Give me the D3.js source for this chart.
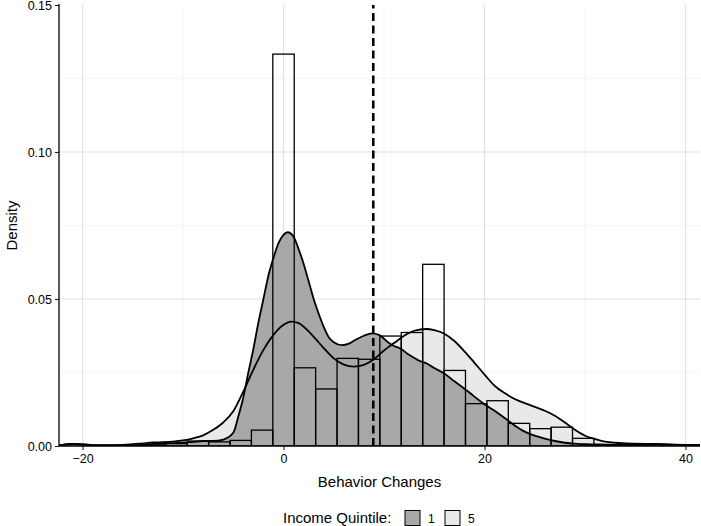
<!DOCTYPE html>
<html><head><meta charset="utf-8">
<script src="https://cdn.jsdelivr.net/npm/d3@7"></script>
<style>body{margin:0;background:#fff} svg{display:block} text{font-family:"Liberation Sans",Arial,sans-serif}</style>
</head><body><svg id="c" width="701" height="526"></svg>
<script>
// ---- data ----
const binWidth = 2.13;
const binCenters = [-12.78,-10.65,-8.52,-6.39,-4.26,-2.13,0,2.13,4.26,6.39,8.52,10.65,12.78,14.91,17.04,19.17,21.3,23.43,25.56,27.69,29.82,31.95,34.08];
const binDensity = [0.0004,0.0008,0.0017,0.0014,0.0019,0.0054,0.1333,0.0266,0.0194,0.0298,0.0295,0.0374,0.0386,0.0618,0.0257,0.0144,0.0154,0.0077,0.0059,0.0064,0.0026,0.0004,0.0003];

const q1X = [-22.3,-21.5,-21,-20,-19,-18,-16,-14,-13,-12,-11,-10,-9,-8,-7,-6,-5,-4.5,-4,-3.5,-3,-2.5,-2,-1.5,-1,-0.5,0,0.4,1,1.5,2,2.5,3,3.5,4,4.5,5,5.8,6.5,7,8,8.8,9.5,10,10.5,11,11.6,12.5,13.5,14.3,15,16,17,18,19,20,21,22,23,24,25,26,27,28,29,30,32,35,38,41.5];
const q1Y = [0.0002,0.0006,0.0007,0.0006,0.0003,0.0002,0.0002,0.0004,0.0007,0.0009,0.0010,0.0011,0.0014,0.0017,0.0017,0.0022,0.0045,0.010,0.0165,0.025,0.033,0.042,0.050,0.058,0.064,0.069,0.0718,0.0727,0.0712,0.067,0.062,0.056,0.050,0.045,0.0405,0.037,0.0353,0.0343,0.0348,0.0358,0.0375,0.0383,0.0378,0.0365,0.035,0.034,0.0332,0.031,0.029,0.028,0.0265,0.0247,0.022,0.0195,0.0168,0.0142,0.012,0.0095,0.007,0.0049,0.0035,0.0025,0.0017,0.0011,0.0008,0.0006,0.0005,0.0004,0.0004,0.0003];

const q5X = [-22.3,-21.5,-21,-20,-19,-18,-16,-15,-14,-13,-12,-11,-10,-9,-8,-7,-6,-5,-4,-3,-2,-1,0,0.8,1.5,2.5,3.3,4,5,6,7,8,9,10,10.5,11,12,13,14.2,15,16,17,18,19,20,21,22,23,24,25,26,27,28,29,30,31,32,33,35,37,39,41.5];
const q5Y = [0.0002,0.0006,0.0007,0.0005,0.0003,0.0003,0.0004,0.0006,0.0009,0.0012,0.0013,0.0015,0.0019,0.0026,0.0036,0.0055,0.008,0.0118,0.0185,0.026,0.0327,0.0378,0.0412,0.0423,0.0418,0.039,0.036,0.0333,0.0298,0.0277,0.027,0.0276,0.0295,0.0325,0.0338,0.035,0.0375,0.0392,0.0398,0.0394,0.0382,0.0357,0.0322,0.0283,0.0243,0.0205,0.018,0.016,0.0146,0.0133,0.012,0.0103,0.008,0.0055,0.0035,0.0024,0.0015,0.0011,0.0008,0.0007,0.0005,0.0004];

const meanValue = 8.93;
const xTicks = [-20, 0, 20, 40];
const xMinorTicks = [-10, 10, 30];
const yTicks = [0, 0.05, 0.10, 0.15];
const yMinorTicks = [0.025, 0.075, 0.125];
const xTitle = "Behavior Changes";
const yTitle = "Density";
const legendTitle = "Income Quintile:";
const legendLabels = ["1", "5"];
const legendFills = ["#a8a8a8", "#e9e9e9"];

// ---- layout ----
const svg = d3.select("#c");
const L = 59, R = 700, T = 5, B = 446;
const x = d3.scaleLinear().domain([-22.34, 41.44]).range([L, R]);
const y = d3.scaleLinear().domain([0, 0.15]).range([B, T]);

svg.append("defs").append("clipPath").attr("id","clip")
  .append("rect").attr("x",L).attr("y",T).attr("width",R-L).attr("height",B-T);

const grid = svg.append("g");
grid.selectAll(".xm").data(xMinorTicks).join("line")
  .attr("x1",d=>x(d)).attr("x2",d=>x(d)).attr("y1",T).attr("y2",B)
  .attr("stroke","#eeeeee").attr("stroke-width",0.6);
grid.selectAll(".ym").data(yMinorTicks).join("line")
  .attr("y1",d=>y(d)).attr("y2",d=>y(d)).attr("x1",L).attr("x2",R)
  .attr("stroke","#eeeeee").attr("stroke-width",0.6);
grid.selectAll(".xM").data(xTicks).join("line")
  .attr("x1",d=>x(d)).attr("x2",d=>x(d)).attr("y1",T).attr("y2",B)
  .attr("stroke","#e0e0e0").attr("stroke-width",1.1);
grid.selectAll(".yM").data(yTicks.filter(d=>d>0 && d<0.15)).join("line")
  .attr("y1",d=>y(d)).attr("y2",d=>y(d)).attr("x1",L).attr("x2",R)
  .attr("stroke","#e0e0e0").attr("stroke-width",1.1);

const plot = svg.append("g").attr("clip-path","url(#clip)");
const q5 = q5X.map((v,i)=>[v,q5Y[i]]);
const q1 = q1X.map((v,i)=>[v,q1Y[i]]);
const area = d3.area().x(d=>x(d[0])).y0(y(0)).y1(d=>y(d[1])).curve(d3.curveMonotoneX);
const line = d3.line().x(d=>x(d[0])).y(d=>y(d[1])).curve(d3.curveMonotoneX);

plot.append("path").datum(q5).attr("d",area).attr("fill",legendFills[1]);
plot.append("path").datum(q1).attr("d",area).attr("fill",legendFills[0]);
plot.append("path").datum(q5).attr("d",line).attr("fill","none").attr("stroke","#000").attr("stroke-width",1.8);
plot.append("path").datum(q1).attr("d",line).attr("fill","none").attr("stroke","#000").attr("stroke-width",1.8);

plot.selectAll(".bar").data(binCenters).join("rect")
  .attr("x",d=>x(d-binWidth/2)).attr("width",d=>x(d+binWidth/2)-x(d-binWidth/2))
  .attr("y",(d,i)=>y(binDensity[i])).attr("height",(d,i)=>y(0)-y(binDensity[i]))
  .attr("fill","none").attr("stroke","#000").attr("stroke-width",1.3);

plot.append("line").attr("x1",x(meanValue)).attr("x2",x(meanValue)).attr("y1",B).attr("y2",T)
  .attr("stroke","#000").attr("stroke-width",2.6).attr("stroke-dasharray","8,4.5");

// axes
const xa = svg.append("g").attr("transform",`translate(0,${B})`)
  .call(d3.axisBottom(x).tickValues(xTicks).tickSize(4).tickPadding(4).tickFormat(d=>d<0?"\u2212"+Math.abs(d):d));
const ya = svg.append("g").attr("transform",`translate(${L},0)`)
  .call(d3.axisLeft(y).tickValues(yTicks).tickSize(4).tickPadding(3).tickFormat(d3.format(".2f")));
[xa,ya].forEach(a=>{
  a.select(".domain").remove();
  a.selectAll(".tick line").attr("stroke","#222").attr("stroke-width",1.1);
  a.selectAll(".tick text").attr("fill","#000").attr("font-size",12.5).attr("font-family","Liberation Sans, Arial, sans-serif");
});
svg.append("line").attr("x1",L).attr("x2",R).attr("y1",B).attr("y2",B).attr("stroke","#000").attr("stroke-width",1.3);
svg.append("line").attr("x1",L).attr("x2",L).attr("y1",T-1).attr("y2",B).attr("stroke","#000").attr("stroke-width",1.3);

svg.append("text").attr("x",(L+R)/2).attr("y",487).attr("text-anchor","middle").attr("font-size",15).attr("fill","#000").text(xTitle);
svg.append("text").attr("transform",`translate(17,${(T+B)/2}) rotate(-90)`).attr("text-anchor","middle").attr("font-size",15).attr("fill","#000").text(yTitle);

// legend
const lg = svg.append("g");
const ly = 518;
lg.append("text").attr("x",283).attr("y",ly+5).attr("font-size",15).attr("fill","#000").text(legendTitle);
const keyX = [405, 445];
legendLabels.forEach((lab,i)=>{
  lg.append("rect").attr("x",keyX[i]).attr("y",ly-7.5).attr("width",15).attr("height",15)
    .attr("fill",legendFills[i]).attr("stroke","#000").attr("stroke-width",1);
  lg.append("text").attr("x",keyX[i]+23).attr("y",ly+4.5).attr("font-size",12).attr("fill","#000").text(lab);
});
</script></body></html>
